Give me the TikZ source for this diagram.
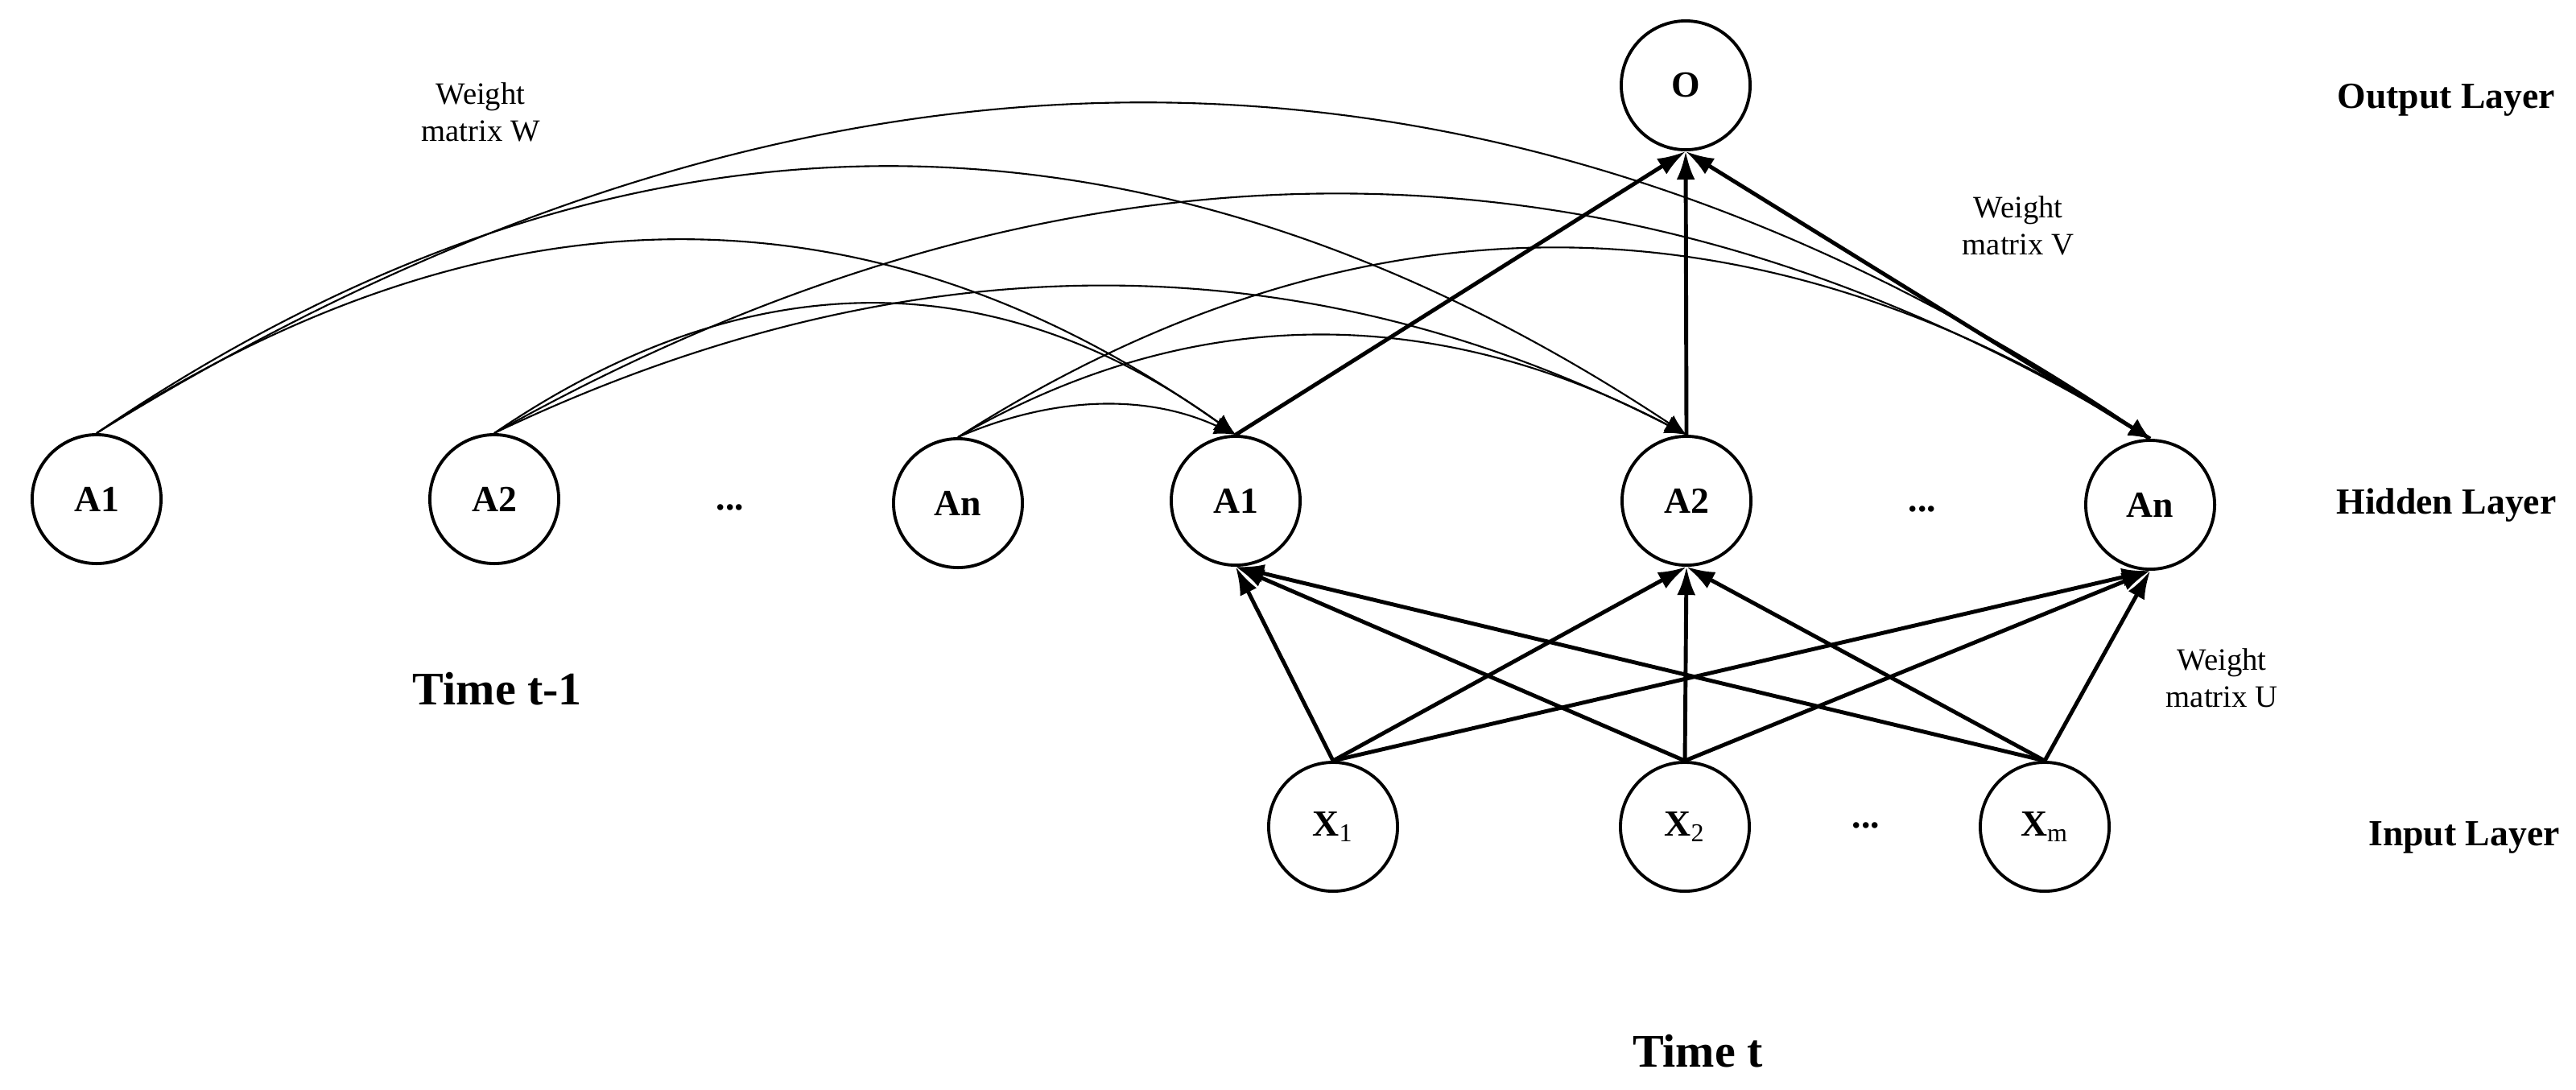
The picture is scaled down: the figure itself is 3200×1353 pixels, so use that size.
\documentclass[tikz,border=0pt]{standalone}
\usepackage{fontspec}
\setmainfont{Liberation Serif}
\usetikzlibrary{arrows.meta,calc}
\newcommand\qarc[3]{\draw[wline] (#1.north) .. controls ($(#1.north)!0.6667!(#3)$) and ($(#2.north)!0.6667!(#3)$) .. (#2.north);}
\begin{document}
\begin{tikzpicture}[x=0.01cm,y=-0.01cm,
 neuron/.style={draw,circle,minimum size=1.6cm,inner sep=0pt,line width=1.1pt,font=\fontsize{13}{15}\selectfont\bfseries},
 strong/.style={-{Latex[length=10pt,width=6.5pt]},line width=1.4pt},
 wline/.style={-{Latex[length=7.5pt,width=6.5pt]},line width=0.6pt},
 layerlbl/.style={font=\fontsize{13}{15}\selectfont\bfseries,anchor=base},
 wlbl/.style={font=\fontsize{11}{13}\selectfont,align=center},
 timelbl/.style={font=\fontsize{16.5}{19}\selectfont\bfseries,anchor=base},
 dotlbl/.style={font=\fontsize{13}{15}\selectfont\bfseries}]
\fill[white] (0,0) rectangle (3200,1353);
\useasboundingbox (0,0) rectangle (3200,1353);
% neurons
\node[neuron] (A1p) at (120,620) {A1};
\node[neuron] (A2p) at (614,620) {A2};
\node[neuron] (Anp) at (1190,625) {An};
\node[neuron] (A1) at (1535,622) {A1};
\node[neuron] (A2) at (2095,622) {A2};
\node[neuron] (An) at (2671,627) {An};
\node[neuron] (O) at (2094,106) {O};
\node[neuron] (X1) at (1656,1027) {X\textsubscript{\mdseries 1}};
\node[neuron] (X2) at (2093,1027) {X\textsubscript{\mdseries 2}};
\node[neuron] (Xm) at (2540,1027) {X\textsubscript{\mdseries m}};
% dots
\node[dotlbl] (d1) at (907,630) {...};
\node[dotlbl] (d2) at (2388,632) {...};
\node[dotlbl] (d3) at (2318,1025) {...};
% labels
\node[layerlbl] (lo) at (3039,134) {Output Layer};
\node[layerlbl] (lh) at (3039,638) {Hidden Layer};
\node[layerlbl] (li) at (3061,1050) {Input Layer};
\node[wlbl] (ww) at (597,139) {Weight\\matrix W};
\node[wlbl] (wv) at (2507,280) {Weight\\matrix V};
\node[wlbl] (wu) at (2760,842) {Weight\\matrix U};
\node[timelbl] (t1) at (618,875) {Time t-1};
\node[timelbl] (t2) at (2109,1325) {Time t};
% input -> hidden
\foreach \s in {X1,X2,Xm}
  \foreach \t in {A1,A2,An}
    \draw[strong] (\s.north) -- (\t.south);
% hidden -> output
\draw[strong] (A1.north) -- (O.south);
\draw[strong] (A2.north) -- (O.south);
\draw[strong] (An.north) -- (O.south);
% recurrent curves
\coordinate (c11) at (1444.5,-283.5);
\coordinate (c12) at (1092.5,-123);
\coordinate (c13) at (856.5,59);
\coordinate (c21) at (1679.5,-57.5);
\coordinate (c22) at (1379.5,173);
\coordinate (c23) at (1085.5,217);
\coordinate (c31) at (1925.5,74);
\coordinate (c32) at (1623.5,292.5);
\coordinate (c33) at (1371.5,464.5);
\qarc{A1p}{An}{c11}
\qarc{A1p}{A2}{c12}
\qarc{A1p}{A1}{c13}
\qarc{A2p}{An}{c21}
\qarc{A2p}{A2}{c22}
\qarc{A2p}{A1}{c23}
\qarc{Anp}{An}{c31}
\qarc{Anp}{A2}{c32}
\qarc{Anp}{A1}{c33}
\end{tikzpicture}
\end{document}
